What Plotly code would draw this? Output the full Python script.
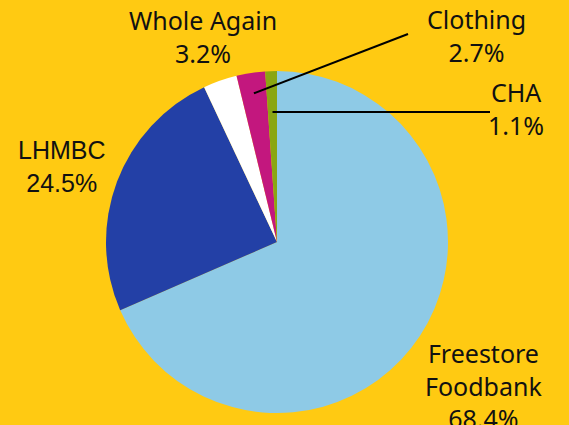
import math
import plotly.graph_objects as go

W, H = 569, 425

categories = ["Freestore Foodbank", "LHMBC", "Whole Again", "Clothing", "CHA"]
values = [68.4, 24.5, 3.2, 2.7, 1.1]
label_texts = ["Freestore<br>Foodbank<br>68.4%", "LHMBC<br>24.5%", "Whole Again<br>3.2%",
               "Clothing<br>2.7%", "CHA<br>1.1%"]
colors = ["#8ECAE6", "#2340A6", "#FFFFFF", "#C3177E", "#8AA613"]

# pie geometry (pixels)
cx, cy, R = 277, 242, 171
dom_x = [(cx - R) / W, (cx + R) / W]
dom_y = [(H - (cy + R)) / H, (H - (cy - R)) / H]

fig = go.Figure(go.Pie(
    labels=categories, values=values, sort=False, direction="clockwise", rotation=0,
    marker=dict(colors=colors, line=dict(width=0)),
    textinfo="none", hoverinfo="label+percent", showlegend=False,
    domain=dict(x=dom_x, y=dom_y),
))

def px2paper(px, py):
    return px / W, 1 - py / H

# label text positions (pixel centers) and fonts
label_pos = {
    "Freestore Foodbank": (483, 385, "Noto Sans"),
    "LHMBC": (62, 166, "Liberation Sans"),
    "Whole Again": (203, 37, "Noto Sans"),
    "Clothing": (476, 35, "Noto Sans"),
    "CHA": (516, 108, "Noto Sans"),
}
annotations = []
for cat, txt in zip(categories, label_texts):
    x, y, fnt = label_pos[cat]
    px, py = px2paper(x, y)
    annotations.append(dict(x=px, y=py, xref="paper", yref="paper", text=txt,
                            showarrow=False, font=dict(family=fnt, size=25, color="#111111"),
                            align="center", xanchor="center", yanchor="middle"))

# leader lines from label to slice midpoints
total = sum(values)
cum = 0
mids = {}
for c, v in zip(categories, values):
    mids[c] = (cum + v / 2) / total * 2 * math.pi
    cum += v

leaders = {"Clothing": ((408, 34), 0.88), "CHA": ((490, 112), 0.76)}
shapes = []
for cat, ((sx, sy), rf) in leaders.items():
    a = mids[cat]
    tx = cx + R * rf * math.sin(a)
    ty = cy - R * rf * math.cos(a)
    if cat == "CHA":
        sy = ty
    x0, y0 = px2paper(sx, sy)
    x1, y1 = px2paper(tx, ty)
    shapes.append(dict(type="line", xref="paper", yref="paper", x0=x0, y0=y0, x1=x1, y1=y1,
                       line=dict(color="black", width=2)))

fig.update_layout(
    width=W, height=H,
    margin=dict(l=0, r=0, t=0, b=0),
    paper_bgcolor="#FFCA12", plot_bgcolor="#FFCA12",
    annotations=annotations, shapes=shapes,
)

fig.write_html("out.html", config={"displayModeBar": False},
               post_script="document.body.style.margin='0';document.body.style.overflow='hidden';")
